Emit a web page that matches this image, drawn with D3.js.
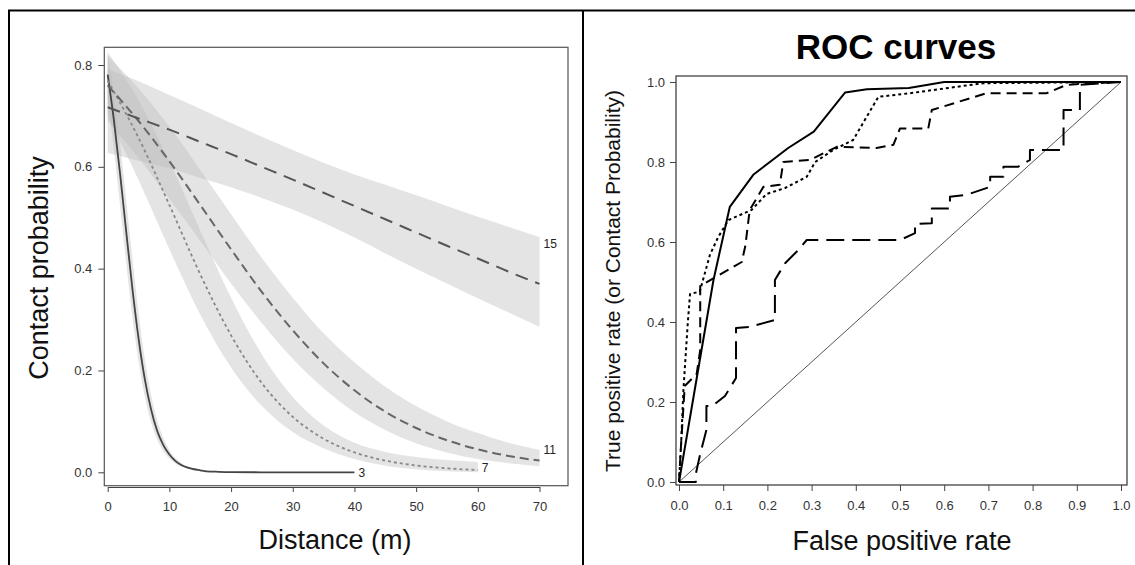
<!DOCTYPE html>
<html>
<head>
<meta charset="utf-8">
<title>Contact probability and ROC curves</title>
<script src="https://d3js.org/d3.v7.min.js"></script>
<style>
  body { margin: 0; background: #fff; }
  svg text { font-family: "Liberation Sans", Arial, sans-serif; }
</style>
</head>
<body>
<svg id="chart" width="1135" height="565"></svg>
<script>
// ---------- left panel: fitted contact probability vs distance ----------
// curve "3" (solid)
var dist3 = [0,1,2,3,4,5,6,7,8,9,10,11,12,13,14,15,16,18,20,25,30,35,40]
var prob3 = [0.781,0.692,0.587,0.473,0.361,0.263,0.184,0.125,0.082,0.054,0.035,0.022,0.014,0.009,0.006,0.004,0.002,0.001,0.0004,0,0,0,0]
var lo3   = [0.735,0.636,0.525,0.411,0.306,0.218,0.149,0.100,0.065,0.042,0.027,0.017,0.011,0.007,0.004,0.003,0.002,0.001,0,0,0,0,0]
var hi3   = [0.821,0.743,0.646,0.535,0.421,0.314,0.224,0.154,0.103,0.068,0.044,0.028,0.018,0.011,0.007,0.005,0.003,0.001,0.0005,0,0,0,0]

// curve "7" (dotted)
var dist7 = [0,5,10,15,20,25,30,35,40,45,50,55,60]
var prob7 = [0.769,0.657,0.525,0.389,0.269,0.175,0.109,0.066,0.039,0.023,0.0134,0.0078,0.0045]
var lo7   = [0.701,0.574,0.438,0.310,0.206,0.130,0.079,0.047,0.026,0.013,0.006,0.002,0.000]
var hi7   = [0.825,0.731,0.611,0.475,0.343,0.231,0.148,0.092,0.058,0.040,0.030,0.024,0.020]

// curve "11" (short dash)
var dist11 = [0,5,10,15,20,25,30,35,40,45,50,55,60,65,70]
var prob11 = [0.760,0.690,0.611,0.525,0.438,0.354,0.279,0.214,0.161,0.119,0.087,0.063,0.045,0.032,0.023]
var lo11   = [0.690,0.618,0.537,0.455,0.371,0.293,0.223,0.165,0.118,0.083,0.057,0.039,0.026,0.018,0.012]
var hi11   = [0.818,0.754,0.679,0.594,0.507,0.421,0.343,0.273,0.216,0.168,0.130,0.100,0.077,0.058,0.044]

// curve "15" (long dash)
var dist15 = [0,5,10,15,20,25,30,35,40,45,50,55,60,65,70]
var prob15 = [0.717,0.695,0.673,0.649,0.625,0.600,0.575,0.549,0.523,0.497,0.471,0.445,0.420,0.394,0.370]
var lo15   = [0.627,0.612,0.597,0.578,0.560,0.539,0.516,0.490,0.461,0.430,0.400,0.371,0.342,0.314,0.286]
var hi15   = [0.792,0.768,0.741,0.714,0.686,0.659,0.633,0.608,0.585,0.565,0.544,0.523,0.502,0.482,0.462]

var curveNames  = ["3","7","11","15"]
var labelProb   = [0.0,0.008,0.044,0.448]
var distTicks   = [0,10,20,30,40,50,60,70]
var probTicks   = [0.0,0.2,0.4,0.6,0.8]

// ---------- right panel: ROC curves ----------
var rocSolidFpr = [0,0.078,0.115,0.168,0.247,0.305,0.376,0.425,0.52,0.6,1.0]
var rocSolidTpr = [0,0.505,0.688,0.768,0.835,0.876,0.974,0.982,0.985,1.0,1.0]

var rocDotFpr = [0,0.005,0.01,0.02,0.025,0.047,0.07,0.089,0.112,0.164,0.198,0.24,0.289,0.308,0.349,0.394,0.451,0.523,0.688,1.0]
var rocDotTpr = [0,0.1,0.23,0.4,0.47,0.476,0.568,0.613,0.655,0.68,0.72,0.735,0.763,0.80,0.83,0.855,0.963,0.972,0.997,1.0]

var rocDashFpr = [0,0.005,0.013,0.04,0.048,0.048,0.142,0.15,0.16,0.191,0.228,0.236,0.296,0.357,0.447,0.485,0.5,0.564,0.572,0.696,0.832,0.877,0.99,1.0]
var rocDashTpr = [0,0.1,0.24,0.27,0.33,0.49,0.55,0.59,0.68,0.738,0.743,0.80,0.805,0.838,0.835,0.843,0.884,0.884,0.93,0.972,0.972,0.993,1.0,1.0]

var rocLongFpr = [0,0.038,0.038,0.048,0.062,0.062,0.075,0.104,0.129,0.129,0.161,0.217,0.217,0.24,0.27,0.289,0.5,0.534,0.534,0.572,0.572,0.613,0.613,0.651,0.704,0.704,0.734,0.734,0.767,0.794,0.794,0.87,0.87,0.907,0.907,1.0]
var rocLongTpr = [0,0,0.02,0.07,0.13,0.19,0.19,0.215,0.26,0.385,0.388,0.405,0.505,0.547,0.58,0.605,0.605,0.622,0.645,0.647,0.684,0.684,0.713,0.718,0.738,0.763,0.763,0.788,0.788,0.805,0.83,0.83,0.93,0.93,0.993,1.0]

var rateTicks = [0,0.1,0.2,0.3,0.4,0.5,0.6,0.7,0.8,0.9,1.0]
var tprTicks  = [0,0.2,0.4,0.6,0.8,1.0]

//======================================================================
var svg = d3.select("#chart")
svg.append("rect").attr("width",1135).attr("height",565).attr("fill","#fff")

//---outer frame---
svg.append("line").attr("x1",8).attr("x2",1135).attr("y1",10.5).attr("y2",10.5)
   .attr("stroke","#000").attr("stroke-width",2)
svg.append("line").attr("x1",9).attr("x2",9).attr("y1",10).attr("y2",565)
   .attr("stroke","#000").attr("stroke-width",2)
svg.append("line").attr("x1",583).attr("x2",583).attr("y1",10).attr("y2",565)
   .attr("stroke","#000").attr("stroke-width",2)

function styleAxis(g, size)
{
    g.selectAll("text").attr("font-size",size).attr("fill","#333")
     .attr("font-family","'Liberation Sans', Arial, sans-serif")
    g.selectAll("line").attr("stroke","#444")
    g.select(".domain").attr("stroke","#444")
}

//---------------- LEFT PANEL ----------------
var xL = d3.scaleLinear().domain([0,70]).range([107.7,539.5])
var yL = d3.scaleLinear().domain([0,0.8]).range([472.3,65])

var left = svg.append("g")

var series = [
    {d:dist3,  p:prob3,  lo:lo3,  hi:hi3,  color:"#444", dash:null,  w:1.8},
    {d:dist7,  p:prob7,  lo:lo7,  hi:hi7,  color:"#888", dash:"3,3", w:1.8},
    {d:dist11, p:prob11, lo:lo11, hi:hi11, color:"#666", dash:"9,5", w:2},
    {d:dist15, p:prob15, lo:lo15, hi:hi15, color:"#555", dash:"13,8",w:2}
]

var band = d3.area()
    .x(function(d){return xL(d.d)})
    .y0(function(d){return yL(d.lo)})
    .y1(function(d){return yL(d.hi)})
    .curve(d3.curveMonotoneX)
var fit = d3.line()
    .x(function(d){return xL(d.d)})
    .y(function(d){return yL(d.p)})
    .curve(d3.curveMonotoneX)

function rows(s)
{
    return s.d.map(function(v,i){return {d:v,p:s.p[i],lo:s.lo[i],hi:s.hi[i]}})
}

series.forEach(function(s){
    left.append("path").attr("d",band(rows(s)))
      .attr("fill","#bbb").attr("fill-opacity",0.4).attr("stroke","none")
})
series.forEach(function(s,i){
    var ln = left.append("path").attr("d",fit(rows(s)))
      .attr("fill","none").attr("stroke",s.color).attr("stroke-width",s.w)
    if(s.dash) ln.attr("stroke-dasharray",s.dash)
    left.append("text")
      .text(curveNames[i])
      .attr("x",xL(s.d[s.d.length-1])+4)
      .attr("y",yL(labelProb[i]))
      .attr("dy","0.35em")
      .attr("font-size",12)
      .attr("fill","#222")
})

//---box---
left.append("rect").attr("x",104.3).attr("y",47.3).attr("width",463.7).attr("height",438.4)
    .attr("fill","none").attr("stroke","#555").attr("stroke-width",1.2)

var axL = left.append("g").attr("transform","translate(104.3,0)")
    .call(d3.axisLeft(yL).tickValues(probTicks).tickFormat(d3.format(".1f"))
          .tickSize(6).tickSizeOuter(0).tickPadding(6))
axL.select(".domain").remove()
styleAxis(axL,13)

var axB = left.append("g").attr("transform","translate(0,487)")
    .call(d3.axisBottom(xL).tickValues(distTicks).tickFormat(d3.format("d"))
          .tickSize(5).tickSizeOuter(0).tickPadding(10))
styleAxis(axB,13)

left.append("text").text("Distance (m)")
    .attr("x",335).attr("y",540).attr("dy","0.35em")
    .attr("text-anchor","middle").attr("font-size",27).attr("fill","#111")
left.append("text").text("Contact probability")
    .attr("transform","translate(39,268)rotate(-90)")
    .attr("dy","0.35em")
    .attr("text-anchor","middle").attr("font-size",27).attr("fill","#111")

//---------------- RIGHT PANEL ----------------
var xR = d3.scaleLinear().domain([0,1]).range([679,1121])
var yR = d3.scaleLinear().domain([0,1]).range([482,82])

var right = svg.append("g")

right.append("text").text("ROC curves")
    .attr("x",896).attr("y",59)
    .attr("text-anchor","middle").attr("font-size",35).attr("font-weight","bold").attr("fill","#000")

//---diagonal reference---
right.append("path")
    .attr("d",d3.line().x(function(d){return xR(d)}).y(function(d){return yR(d)})([0,1]))
    .attr("stroke","#555").attr("stroke-width",1).attr("fill","none")

var roc = [
    {f:rocSolidFpr, t:rocSolidTpr, dash:null},
    {f:rocDotFpr,   t:rocDotTpr,   dash:"3,3"},
    {f:rocDashFpr,  t:rocDashTpr,  dash:"10,6"},
    {f:rocLongFpr,  t:rocLongTpr,  dash:"18,8"}
]
var rocLine = d3.line()
    .x(function(d){return xR(d[0])})
    .y(function(d){return yR(d[1])})

roc.forEach(function(r){
    var pts = r.f.map(function(v,i){return [v,r.t[i]]})
    var p = right.append("path").attr("d",rocLine(pts))
      .attr("fill","none").attr("stroke","#000").attr("stroke-width",2)
      .attr("stroke-linejoin","round")
    if(r.dash) p.attr("stroke-dasharray",r.dash)
})

right.append("rect").attr("x",676).attr("y",76).attr("width",451).attr("height",409)
    .attr("fill","none").attr("stroke","#333").attr("stroke-width",1.2)

var axRL = right.append("g").attr("transform","translate(676,0)")
    .call(d3.axisLeft(yR).tickValues(tprTicks).tickFormat(d3.format(".1f"))
          .tickSize(6).tickSizeOuter(0).tickPadding(5))
axRL.select(".domain").remove()
styleAxis(axRL,13)

var axRB = right.append("g").attr("transform","translate(0,485)")
    .call(d3.axisBottom(xR).tickValues(rateTicks).tickFormat(d3.format(".1f"))
          .tickSize(6).tickSizeOuter(0).tickPadding(10))
axRB.select(".domain").remove()
styleAxis(axRB,13)

right.append("text").text("False positive rate")
    .attr("x",902).attr("y",541).attr("dy","0.35em")
    .attr("text-anchor","middle").attr("font-size",27).attr("fill","#111")
right.append("text").text("True positive rate (or Contact Probability)")
    .attr("transform","translate(613,281)rotate(-90)")
    .attr("dy","0.35em")
    .attr("text-anchor","middle").attr("font-size",21).attr("fill","#111")
</script>
</body>
</html>
